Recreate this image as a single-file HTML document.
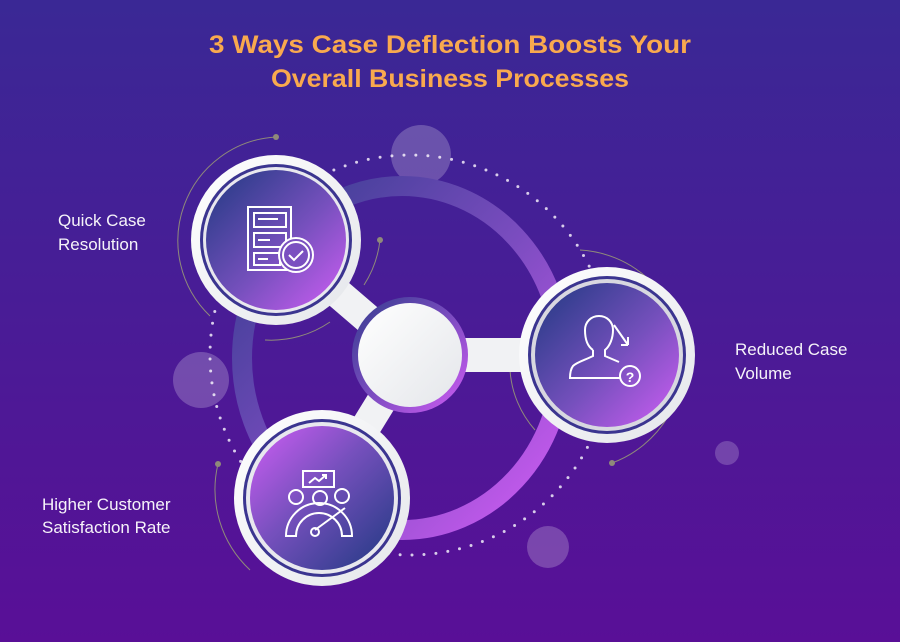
<!DOCTYPE html>
<html><head><meta charset="utf-8"><style>
html,body{margin:0;padding:0;width:900px;height:642px;overflow:hidden}
svg{display:block}
text{font-family:"Liberation Sans",sans-serif}
</style></head><body>
<svg width="900" height="642" viewBox="0 0 900 642" xmlns="http://www.w3.org/2000/svg">
<defs>
<linearGradient id="bg" x1="0" y1="0" x2="0" y2="1"><stop offset="0" stop-color="#3a2895"/><stop offset="1" stop-color="#590f97"/></linearGradient>
<linearGradient id="ring" x1="0" y1="0" x2="1" y2="1"><stop offset="0" stop-color="#343c8e"/><stop offset="0.5" stop-color="#7a4cbf"/><stop offset="1" stop-color="#d35cf6"/></linearGradient>
<linearGradient id="g1" x1="0" y1="0" x2="1" y2="1"><stop offset="0.1" stop-color="#2f3d8c"/><stop offset="0.55" stop-color="#7650bd"/><stop offset="1" stop-color="#cf5ef5"/></linearGradient>
<linearGradient id="g2" x1="1" y1="1" x2="0" y2="0"><stop offset="0.1" stop-color="#2f3d8c"/><stop offset="0.55" stop-color="#7650bd"/><stop offset="1" stop-color="#cf5ef5"/></linearGradient>
<linearGradient id="wh" x1="0" y1="0" x2="1" y2="1"><stop offset="0" stop-color="#ffffff"/><stop offset="1" stop-color="#e4e6ea"/></linearGradient>
</defs>
<rect width="900" height="642" fill="url(#bg)"/>
<text x="450" y="53" text-anchor="middle" font-size="25" font-weight="bold" fill="#f9a94e" textLength="482" lengthAdjust="spacingAndGlyphs">3 Ways Case Deflection Boosts Your</text>
<text x="450" y="87" text-anchor="middle" font-size="25" font-weight="bold" fill="#f9a94e" textLength="358" lengthAdjust="spacingAndGlyphs">Overall Business Processes</text>

<circle cx="410" cy="355" r="200" fill="none" stroke="#d8cdea" stroke-width="3" stroke-linecap="round" stroke-dasharray="0 12"/>
<circle cx="421" cy="155" r="30" fill="#ffffff" opacity="0.22"/>
<circle cx="201" cy="380" r="28" fill="#ffffff" opacity="0.22"/>
<circle cx="548" cy="547" r="21" fill="#ffffff" opacity="0.22"/>
<circle cx="727" cy="453" r="12" fill="#ffffff" opacity="0.2"/>
<ellipse cx="402" cy="358" rx="160" ry="172" fill="none" stroke="url(#ring)" stroke-width="20"/>

<g fill="none" stroke="#8f8a7a" stroke-width="1">
<path d="M276 137 A104 104 0 0 0 210 316"/>
<path d="M380 240 A104 104 0 0 1 364 285"/>
<path d="M265 340 A104 104 0 0 0 330 322"/>
<path d="M580 250 A110 110 0 0 1 612 463"/>
<path d="M510 370 A100 100 0 0 0 535 430"/>
<path d="M218 464 A110 110 0 0 0 250 570"/>
</g>
<g fill="#8f8a7a"><circle cx="276" cy="137" r="3"/><circle cx="380" cy="240" r="3"/><circle cx="612" cy="463" r="3"/><circle cx="218" cy="464" r="3"/></g>

<g stroke="#f1f2f4" stroke-linecap="butt">
<line x1="276" y1="240" x2="410" y2="355" stroke-width="30"/>
<line x1="410" y1="355" x2="607" y2="355" stroke-width="34"/>
<line x1="410" y1="355" x2="322" y2="498" stroke-width="30"/>
</g>

<circle cx="410" cy="355" r="58" fill="url(#ring)"/>
<circle cx="410" cy="355" r="52" fill="url(#wh)"/>

<circle cx="276" cy="240" r="85" fill="url(#wh)"/>
<circle cx="276" cy="240" r="76" fill="#3b3590"/>
<circle cx="276" cy="240" r="73" fill="#e8e8ee"/>
<circle cx="276" cy="240" r="70" fill="url(#g1)"/>
<circle cx="607" cy="355" r="88" fill="url(#wh)"/>
<circle cx="607" cy="355" r="79" fill="#3b3590"/>
<circle cx="607" cy="355" r="76" fill="#d8d8e0"/>
<circle cx="607" cy="355" r="72" fill="url(#g1)"/>
<circle cx="322" cy="498" r="88" fill="url(#wh)"/>
<circle cx="322" cy="498" r="79" fill="#3b3590"/>
<circle cx="322" cy="498" r="76" fill="#e8e8ee"/>
<circle cx="322" cy="498" r="72" fill="url(#g2)"/>

<g fill="none" stroke="#fff" stroke-width="2">
<rect x="248" y="207" width="43" height="63"/>
<rect x="254" y="213" width="32" height="14"/><rect x="254" y="233" width="32" height="14"/><rect x="254" y="253" width="26" height="12"/>
<path d="M258 219h20M258 240h12M258 259h10"/>
<circle cx="296" cy="255" r="17" fill="#7a50c0"/><circle cx="296" cy="255" r="13"/>
<path d="M289 255l5 5 9-9"/>
</g>
<g fill="none" stroke="#fff" stroke-width="2">
<path d="M593 350c-6-4-8-12-8-20 0-8 6-14 14-14s14 6 14 14c0 8-3 16-8 20v6l14 6"/>
<path d="M593 350v6c-8 4-16 6-20 10-3 4-3 10-3 12h50"/>
<path d="M614 325l14 20M628 345v-8M628 345h-7"/>
<circle cx="630" cy="376" r="10"/>
</g>
<text x="630" y="382" text-anchor="middle" font-size="14" font-weight="bold" fill="#fff">?</text>
<g fill="none" stroke="#fff" stroke-width="2">
<rect x="303" y="471" width="31" height="16"/><path d="M309 483l6-5 4 3 7-6M322 475h4v4"/>
<circle cx="296" cy="497" r="7"/><circle cx="320" cy="498" r="7"/><circle cx="342" cy="496" r="7"/>
<path d="M286 536a32 32 0 0 1 66 0h-10a22 22 0 0 0-46 0z"/>
<path d="M315 530l30-22"/><circle cx="315" cy="532" r="4"/>
</g>

<g fill="#fff" font-size="17" opacity="0.95">
<text x="58" y="226">Quick Case</text>
<text x="58" y="250">Resolution</text>
<text x="735" y="355">Reduced Case</text>
<text x="735" y="379">Volume</text>
<text x="42" y="510">Higher Customer</text>
<text x="42" y="533">Satisfaction Rate</text>
</g>
</svg>
</body></html>
